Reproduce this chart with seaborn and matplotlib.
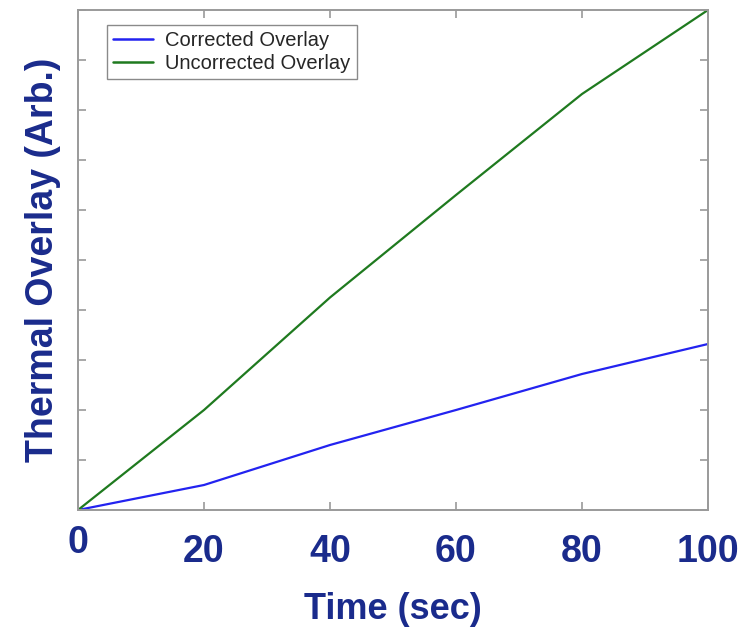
import matplotlib
matplotlib.use("Agg")
import matplotlib.pyplot as plt
from matplotlib.transforms import ScaledTranslation
import seaborn as sns
import pandas as pd

# ---- data ----
time = [0, 20, 40, 60, 80, 100]
corrected = [0.0, 0.5, 1.3, 2.0, 2.72, 3.32]
uncorrected = [0.0, 2.0, 4.25, 6.3, 8.32, 10.0]
series_names = ["Corrected Overlay", "Uncorrected Overlay"]
x_ticks = [0, 20, 40, 60, 80, 100]
x_tick_labels = ["0", "20", "40", "60", "80", "100"]
y_ticks = list(range(0, 11))

df = pd.DataFrame({
    "Time": time + time,
    "Value": corrected + uncorrected,
    "Series": [series_names[0]] * len(time) + [series_names[1]] * len(time),
})

sns.set_theme(style="white")
plt.rcParams['font.family'] = ['Liberation Sans', 'DejaVu Sans']

label_color = "#1a2b8c"
frame_color = "#9a9a9a"

fig = plt.figure(figsize=(7.44, 6.32), dpi=100)
ax = fig.add_axes([78 / 744, 1 - 510 / 632, 630 / 744, 500 / 632])

sns.lineplot(data=df, x="Time", y="Value", hue="Series",
             palette={series_names[0]: "#2323f0", series_names[1]: "#1f7a1f"},
             linewidth=1.6, ax=ax, legend=True)

ax.set_xlim(0, 100)
ax.set_ylim(0, 10)
ax.set_xticks(x_ticks)
ax.set_xticklabels(x_tick_labels)
ax.set_yticks(y_ticks)
ax.set_yticklabels([])

for sp in ax.spines.values():
    sp.set_color(frame_color)
    sp.set_linewidth(1.4)

ax.tick_params(axis="both", direction="in", length=6, width=1.2, color=frame_color,
               top=True, right=True, bottom=True, left=True)
ax.tick_params(axis="x", pad=17, labelsize=27, labelcolor=label_color)
for lab in ax.get_xticklabels():
    lab.set_fontweight("bold")

# raise the "0" label a bit as in the reference
lab0 = ax.get_xticklabels()[0]
lab0.set_transform(lab0.get_transform() + ScaledTranslation(0, 6 / 72, fig.dpi_scale_trans))

ax.set_xlabel("Time (sec)", fontsize=26, fontweight="bold", color=label_color, labelpad=16)
ax.set_ylabel("Thermal Overlay (Arb.)", fontsize=27, fontweight="bold", color=label_color, labelpad=9)

leg = ax.legend(loc="upper left", bbox_to_anchor=(0.046, 0.97), borderaxespad=0,
                frameon=True, fancybox=False, edgecolor="#8a8a8a", framealpha=1,
                prop={"family": ["Liberation Sans", "DejaVu Sans"], "size": 14.5},
                handlelength=2.0, borderpad=0.3, labelspacing=0.2, handletextpad=0.6)
leg.get_frame().set_linewidth(1.0)
for line in leg.get_lines():
    line.set_linewidth(1.8)

fig.savefig("out.png", dpi=100)
